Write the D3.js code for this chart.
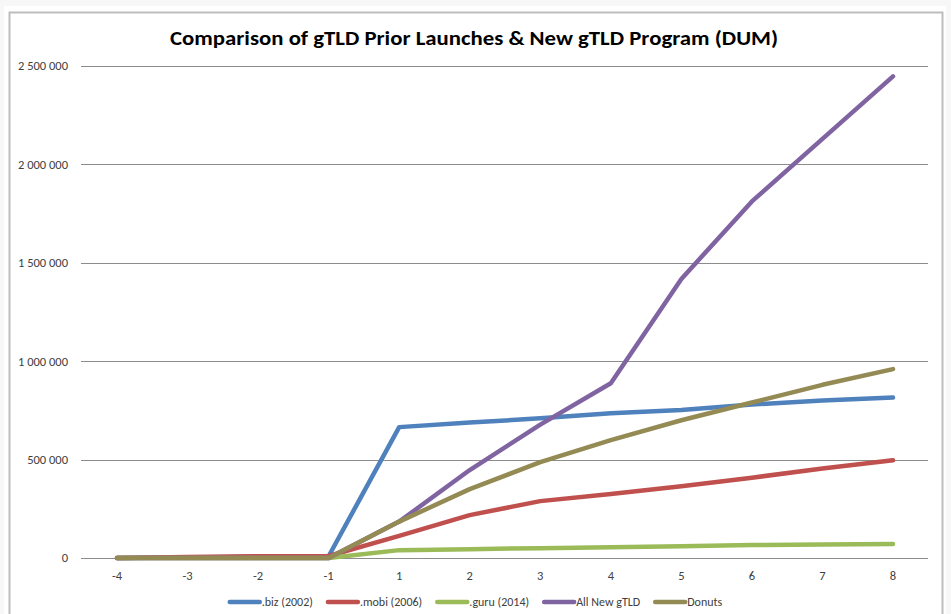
<!DOCTYPE html>
<html>
<head>
<meta charset="utf-8">
<script src="https://cdn.jsdelivr.net/npm/d3@7"></script>
<style>
  html, body { margin: 0; padding: 0; background: #f7f7f7; }
  svg { display: block; }
</style>
</head>
<body>
<div id="chart"></div>
<script>
'use strict';

// chart data
const categories = ['-4', '-3', '-2', '-1', '1', '2', '3', '4', '5', '6', '7', '8'];
const bizValues = [0, 3000, 6000, 9000, 665000, 688000, 710000, 735000, 752000, 780000, 800000, 815000];
const mobiValues = [0, 5000, 9000, 10000, 112000, 218000, 289000, 325000, 365000, 408000, 455000, 497000];
const guruValues = [0, 0, 0, 0, 40000, 45000, 50000, 55000, 60000, 66000, 68000, 71000];
const allNewValues = [0, 0, 0, 0, 185000, 447000, 678000, 888000, 1418000, 1812000, 2130000, 2447000];
const donutsValues = [0, 0, 0, 0, 185000, 350000, 487000, 599000, 700000, 790000, 880000, 960000];
const seriesNames = ['.biz (2002)', '.mobi (2006)', '.guru (2014)', 'All New gTLD', 'Donuts'];
const seriesColors = ['#4f81bd', '#c0504d', '#9bbb59', '#8064a2', '#948a54'];
const yTicks = [0, 500000, 1000000, 1500000, 2000000, 2500000];
const chartTitle = 'Comparison of gTLD Prior Launches & New gTLD Program (DUM)';

const series = [bizValues, mobiValues, guruValues, allNewValues, donutsValues].map(function(vals, i) {
  return { name: seriesNames[i], color: seriesColors[i], values: vals };
});

const W = 951, H = 614;
const font = 'Calibri, Carlito, "Liberation Sans Narrow", "Liberation Sans", Arial, sans-serif';

const svg = d3.select('#chart').append('svg')
  .attr('width', W)
  .attr('height', H);

// excel-like frame
svg.append('rect').attr('x', 0).attr('y', 0).attr('width', W).attr('height', H).attr('fill', '#f7f7f7');
svg.append('rect').attr('x', 4).attr('y', 6).attr('width', 942).attr('height', H).attr('fill', '#ffffff');
svg.append('rect')
  .attr('x', 9.5).attr('y', 12.5).attr('width', 933).attr('height', H)
  .attr('fill', '#ffffff').attr('stroke', '#bdbdbd').attr('stroke-width', 2);

const x = d3.scalePoint().domain(categories).range([117, 893]);
const y = d3.scaleLinear().domain([0, 2500000]).range([558, 66]);
const plotLeft = 81, plotRight = 928;

const fmt = d3.formatLocale({ decimal: ',', thousands: ' ', grouping: [3], currency: ['', ''] }).format(',d');

// gridlines
svg.append('g').selectAll('line')
  .data(yTicks)
  .join('line')
  .attr('x1', plotLeft).attr('x2', plotRight)
  .attr('y1', function(d) { return Math.round(y(d)) + 0.5; })
  .attr('y2', function(d) { return Math.round(y(d)) + 0.5; })
  .attr('stroke', '#8c8c8c')
  .attr('stroke-width', 1);

// y labels
svg.append('g').selectAll('text')
  .data(yTicks)
  .join('text')
  .attr('x', 68)
  .attr('y', function(d) { return y(d); })
  .attr('dy', '0.35em')
  .attr('text-anchor', 'end')
  .attr('font-family', font)
  .attr('font-size', 12.5)
  .attr('fill', '#404040')
  .text(function(d) { return fmt(d); });

// x labels
svg.append('g').selectAll('text')
  .data(categories)
  .join('text')
  .attr('x', function(d) { return x(d); })
  .attr('y', 580)
  .attr('text-anchor', 'middle')
  .attr('font-family', font)
  .attr('font-size', 12.5)
  .attr('fill', '#404040')
  .text(function(d) { return d; });

// lines
const line = d3.line()
  .x(function(d, i) { return x(categories[i]); })
  .y(function(d) { return y(d); });

svg.append('g').selectAll('path')
  .data(series)
  .join('path')
  .attr('d', function(s) { return line(s.values); })
  .attr('fill', 'none')
  .attr('stroke', function(s) { return s.color; })
  .attr('stroke-width', 4.5)
  .attr('stroke-linejoin', 'round')
  .attr('stroke-linecap', 'round');

// title
svg.append('text')
  .attr('x', 474)
  .attr('y', 45)
  .attr('text-anchor', 'middle')
  .attr('font-family', font)
  .attr('font-weight', 'bold')
  .attr('font-size', 21)
  .attr('fill', '#000000')
  .attr('textLength', 608)
  .attr('lengthAdjust', 'spacingAndGlyphs')
  .text(chartTitle);

// legend
const legend = svg.append('g');
const items = legend.selectAll('g')
  .data(series)
  .join('g');

items.append('line')
  .attr('x1', 0).attr('x2', 30)
  .attr('y1', 0).attr('y2', 0)
  .attr('stroke', function(s) { return s.color; })
  .attr('stroke-width', 4.5)
  .attr('stroke-linecap', 'round');

items.append('text')
  .attr('x', 32)
  .attr('dy', '0.35em')
  .attr('font-family', font)
  .attr('font-size', 12)
  .attr('fill', '#404040')
  .text(function(s) { return s.name; });

let cursor = 0;
const offsets = [];
items.each(function() {
  const tw = d3.select(this).select('text').node().getComputedTextLength();
  offsets.push(cursor);
  cursor += 32 + tw + 15;
});
const totalW = cursor - 15;
const startX = 476 - totalW / 2;
items.attr('transform', function(d, i) { return 'translate(' + (startX + offsets[i]) + ',602)'; });
</script>
</body>
</html>
